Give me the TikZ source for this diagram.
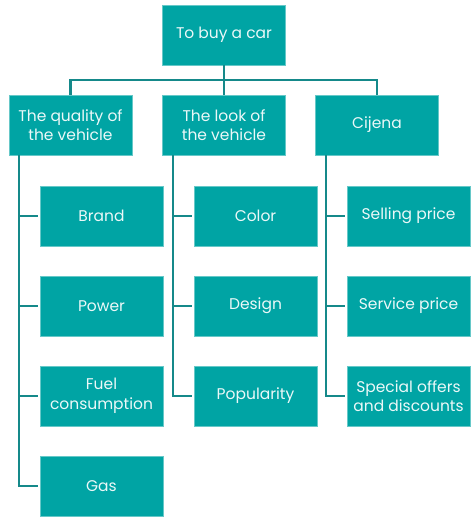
\documentclass[tikz,border=0pt]{standalone}
\usepackage{fontspec}
\setmainfont{Poppins}
\usepackage{tikz}
\usetikzlibrary{positioning}
\definecolor{boxteal}{HTML}{00A4A4}
\definecolor{lineteal}{HTML}{15898A}

\begin{document}
\begin{tikzpicture}[x=1pt, y=1pt,
        topic/.style={rectangle, draw=boxteal!60!white, line width=0.6pt, fill=boxteal, text=white!92!boxteal,
            minimum width=123pt, minimum height=60pt, align=center, font=\fontsize{15.5}{19.5}\selectfont, inner sep=1pt},
        link/.style={lineteal, line width=2.2pt},
        branch/.style={lineteal, line width=2.2pt, shorten >=2pt},
    ]
    \useasboundingbox (0,0) rectangle (470,-518);
    % top and first level
    \node[topic] (car) at (224,-35) {To buy a car};
    \node[topic] (qual) at (70.5,-125) {The quality of\\the vehicle};
    \node[topic] (look) at (224,-125) {The look of\\the vehicle};
    \node[topic] (price) at (377,-125) {Cijena};
    % second level
    \node[topic] (brand) at (101.5,-216) {Brand};
    \node[topic] (power) at (101.5,-306) {Power};
    \node[topic] (fuel) at (101.5,-396) {Fuel\\consumption};
    \node[topic] (gas) at (101.5,-486) {Gas};
    \node[topic] (color) at (255.5,-216) {Color};
    \node[topic] (design) at (255.5,-306) {Design};
    \node[topic] (popular) at (255.5,-396) {Popularity};
    \node[topic] (selling) at (408.5,-216) {Selling price};
    \node[topic] (service) at (408.5,-306) {Service price};
    \node[topic] (offers) at (408.5,-396) {Special offers\\and discounts};
    % connectors
    \draw[link] (car.south) -- ++(0,-15) coordinate (hub);
    \draw[link] (hub) -| (qual.north);
    \draw[link] (hub) -- (look.north);
    \draw[link] (hub) -| (price.north);
    \foreach \kid in {brand, power, fuel, gas}
        \draw[branch] ([xshift=10pt]qual.south west) |- (\kid.west);
    \foreach \kid in {color, design, popular}
        \draw[branch] ([xshift=11pt]look.south west) |- (\kid.west);
    \foreach \kid in {selling, service, offers}
        \draw[branch] ([xshift=11pt]price.south west) |- (\kid.west);
\end{tikzpicture}
\end{document}
